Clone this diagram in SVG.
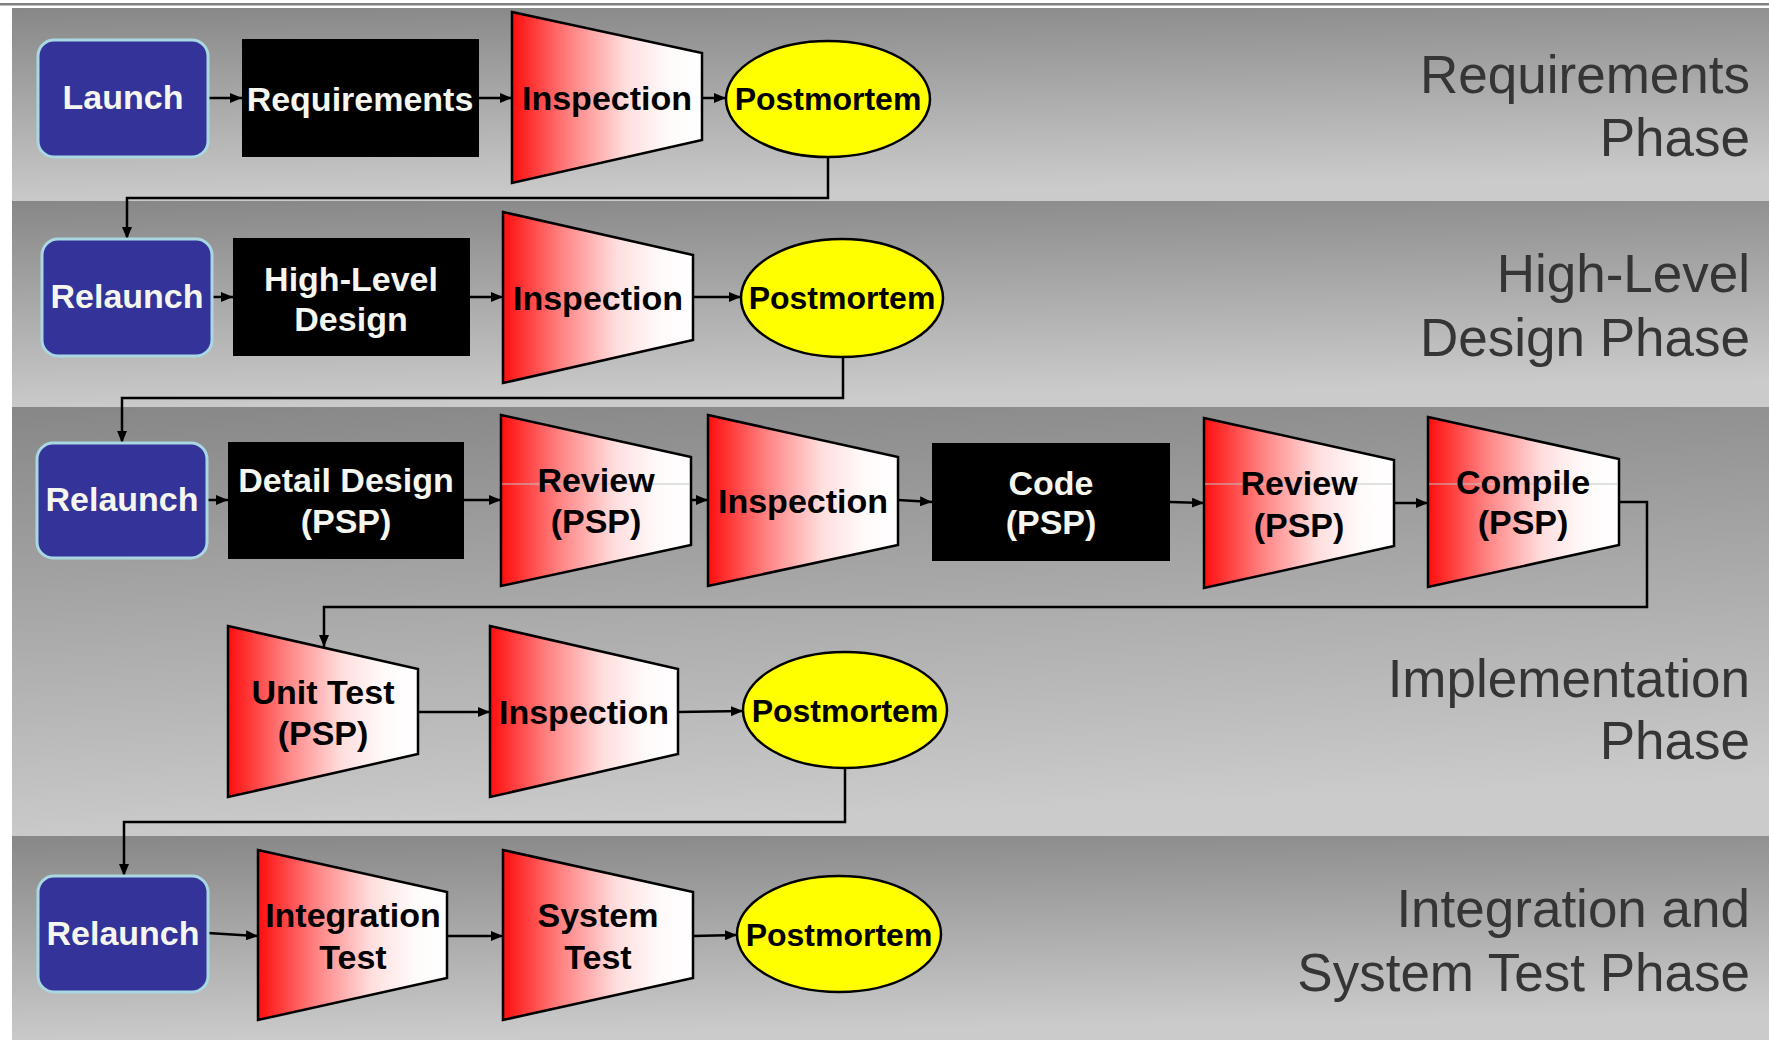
<svg xmlns="http://www.w3.org/2000/svg" width="1769" height="1040" viewBox="0 0 1769 1040">
  <defs>
    <linearGradient id="bandGrad" x1="0" y1="0" x2="0.15" y2="1">
      <stop offset="0" stop-color="#878787"/>
      <stop offset="1" stop-color="#cbcbcb"/>
    </linearGradient>
    <linearGradient id="redFade" x1="0" y1="0" x2="1" y2="0">
      <stop offset="0" stop-color="#ff0d0d"/>
      <stop offset="0.3" stop-color="#ff8080"/>
      <stop offset="0.6" stop-color="#ffdede"/>
      <stop offset="0.82" stop-color="#fffafa"/>
      <stop offset="1" stop-color="#ffffff"/>
    </linearGradient>
    <marker id="arrow" markerUnits="userSpaceOnUse" markerWidth="12" markerHeight="10" refX="12" refY="5" orient="auto">
      <path d="M0,0 L12,5 L0,10 z" fill="#000"/>
    </marker>
  </defs>
  <style>
    .band { fill: url(#bandGrad); }
    .start { fill: #333399; stroke: #aad8e2; stroke-width: 3; }
    .task { fill: #000; }
    .check { fill: url(#redFade); stroke: #000; stroke-width: 2.5; stroke-linejoin: miter; }
    .pm { fill: #ffff00; stroke: #000; stroke-width: 2.5; }
    .seam { stroke: #c4c4c4; stroke-width: 1; }
    .lbl { font-family: "Liberation Sans", Arial, sans-serif; font-weight: bold; font-size: 34px; text-anchor: middle; }
    .w { fill: #f6f6f0; }
    .k { fill: #000; }
    .pmt { font-size: 32px; }
    .phase { font-family: "Liberation Sans", Arial, sans-serif; font-size: 53px; fill: #353535; text-anchor: end; }
    .conn { fill: none; stroke: #000; stroke-width: 2.5; marker-end: url(#arrow); }
  </style>

  <!-- page background and top rule -->
  <rect x="0" y="0" width="1769" height="1040" fill="#ffffff"/>
  <rect x="0" y="3" width="1769" height="2.5" fill="#808080"/>

  <!-- phase bands -->
  <g id="bands">
    <rect class="band" x="12" y="8" width="1757" height="193"/>
    <rect class="band" x="12" y="201" width="1757" height="206"/>
    <rect class="band" x="12" y="407" width="1757" height="429"/>
    <rect class="band" x="12" y="836" width="1757" height="204"/>
  </g>

  <!-- phase titles -->
  <g id="phase-labels">
    <text class="phase" x="1750" y="93">Requirements</text>
    <text class="phase" x="1750" y="156">Phase</text>
    <text class="phase" x="1750" y="292">High-Level</text>
    <text class="phase" x="1750" y="356">Design Phase</text>
    <text class="phase" x="1750" y="697">Implementation</text>
    <text class="phase" x="1750" y="759">Phase</text>
    <text class="phase" x="1750" y="927">Integration and</text>
    <text class="phase" x="1750" y="991">System Test Phase</text>
  </g>

  <!-- connectors -->
  <g id="connectors">
    <path class="conn" d="M208,98 L242,98"/>
    <path class="conn" d="M479,98 L512,98"/>
    <path class="conn" d="M702,98 L726,98"/>
    <path class="conn" d="M828,157 L828,198 L127,198 L127,239"/>

    <path class="conn" d="M212,297 L233,297"/>
    <path class="conn" d="M470,297 L503,297"/>
    <path class="conn" d="M693,297 L741,297"/>
    <path class="conn" d="M843,357 L843,398 L122,398 L122,443"/>

    <path class="conn" d="M207,500 L228,500"/>
    <path class="conn" d="M464,500 L501,500"/>
    <path class="conn" d="M691,500 L708,500"/>
    <path class="conn" d="M898,500 L932,502"/>
    <path class="conn" d="M1170,502 L1204,503"/>
    <path class="conn" d="M1394,503 L1428,503"/>
    <path class="conn" d="M1619,502 L1647,502 L1647,607 L324,607 L324,647"/>

    <path class="conn" d="M418,712 L490,712"/>
    <path class="conn" d="M678,712 L743,711"/>
    <path class="conn" d="M845,768 L845,822 L124,822 L124,876"/>

    <path class="conn" d="M208,933 L258,936"/>
    <path class="conn" d="M447,936 L503,936"/>
    <path class="conn" d="M693,936 L737,935"/>
  </g>

  <!-- Requirements phase -->
  <g id="launch">
    <rect class="start" x="38" y="40" width="170" height="117" rx="16"/>
    <text class="lbl w" x="123" y="109">Launch</text>
  </g>
  <g id="requirements">
    <rect class="task" x="242" y="39" width="237" height="118"/>
    <text class="lbl w" x="360" y="111">Requirements</text>
  </g>
  <g id="req-inspection">
    <polygon class="check" points="512,12 702,53 702,140 512,183"/>
    <text class="lbl k" x="607" y="110">Inspection</text>
  </g>
  <g id="req-postmortem">
    <ellipse class="pm" cx="828" cy="99" rx="102" ry="58"/>
    <text class="lbl k pmt" x="828" y="110">Postmortem</text>
  </g>

  <!-- High-level design phase -->
  <g id="hld-relaunch">
    <rect class="start" x="42" y="239" width="170" height="117" rx="16"/>
    <text class="lbl w" x="127" y="308">Relaunch</text>
  </g>
  <g id="high-level-design">
    <rect class="task" x="233" y="238" width="237" height="118"/>
    <text class="lbl w" x="351" y="291">High-Level</text>
    <text class="lbl w" x="351" y="331">Design</text>
  </g>
  <g id="hld-inspection">
    <polygon class="check" points="503,212 693,255 693,340 503,383"/>
    <text class="lbl k" x="598" y="310">Inspection</text>
  </g>
  <g id="hld-postmortem">
    <ellipse class="pm" cx="842" cy="298" rx="101" ry="59"/>
    <text class="lbl k pmt" x="842" y="309">Postmortem</text>
  </g>

  <!-- Implementation phase -->
  <g id="impl-relaunch">
    <rect class="start" x="37" y="443" width="170" height="115" rx="16"/>
    <text class="lbl w" x="122" y="511">Relaunch</text>
  </g>
  <g id="detail-design">
    <rect class="task" x="228" y="442" width="236" height="117"/>
    <text class="lbl w" x="346" y="492">Detail Design</text>
    <text class="lbl w" x="346" y="533">(PSP)</text>
  </g>
  <g id="design-review">
    <polygon class="check" points="501,415 691,457 691,545 501,586"/>
    <line class="seam" x1="502" y1="484" x2="690" y2="484"/>
    <text class="lbl k" x="596" y="492">Review</text>
    <text class="lbl k" x="596" y="533">(PSP)</text>
  </g>
  <g id="design-inspection">
    <polygon class="check" points="708,415 898,457 898,545 708,586"/>
    <text class="lbl k" x="803" y="513">Inspection</text>
  </g>
  <g id="code">
    <rect class="task" x="932" y="443" width="238" height="118"/>
    <text class="lbl w" x="1051" y="495">Code</text>
    <text class="lbl w" x="1051" y="534">(PSP)</text>
  </g>
  <g id="code-review">
    <polygon class="check" points="1204,418 1394,460 1394,546 1204,588"/>
    <line class="seam" x1="1205" y1="484" x2="1393" y2="484"/>
    <text class="lbl k" x="1299" y="495">Review</text>
    <text class="lbl k" x="1299" y="537">(PSP)</text>
  </g>
  <g id="compile">
    <polygon class="check" points="1428,417 1619,459 1619,545 1428,587"/>
    <line class="seam" x1="1429" y1="484" x2="1618" y2="484"/>
    <text class="lbl k" x="1523" y="494">Compile</text>
    <text class="lbl k" x="1523" y="534">(PSP)</text>
  </g>
  <g id="unit-test">
    <polygon class="check" points="228,626 418,669 418,754 228,797"/>
    <text class="lbl k" x="323" y="704">Unit Test</text>
    <text class="lbl k" x="323" y="745">(PSP)</text>
  </g>
  <g id="code-inspection">
    <polygon class="check" points="490,626 678,669 678,754 490,797"/>
    <text class="lbl k" x="584" y="724">Inspection</text>
  </g>
  <g id="impl-postmortem">
    <ellipse class="pm" cx="845" cy="710" rx="102" ry="58"/>
    <text class="lbl k pmt" x="845" y="722">Postmortem</text>
  </g>

  <!-- Integration and system test phase -->
  <g id="test-relaunch">
    <rect class="start" x="38" y="876" width="170" height="116" rx="16"/>
    <text class="lbl w" x="123" y="945">Relaunch</text>
  </g>
  <g id="integration-test">
    <polygon class="check" points="258,850 447,892 447,978 258,1020"/>
    <text class="lbl k" x="353" y="927">Integration</text>
    <text class="lbl k" x="353" y="969">Test</text>
  </g>
  <g id="system-test">
    <polygon class="check" points="503,850 693,892 693,978 503,1020"/>
    <text class="lbl k" x="598" y="927">System</text>
    <text class="lbl k" x="598" y="969">Test</text>
  </g>
  <g id="test-postmortem">
    <ellipse class="pm" cx="839" cy="934" rx="102" ry="58"/>
    <text class="lbl k pmt" x="839" y="946">Postmortem</text>
  </g>
</svg>
